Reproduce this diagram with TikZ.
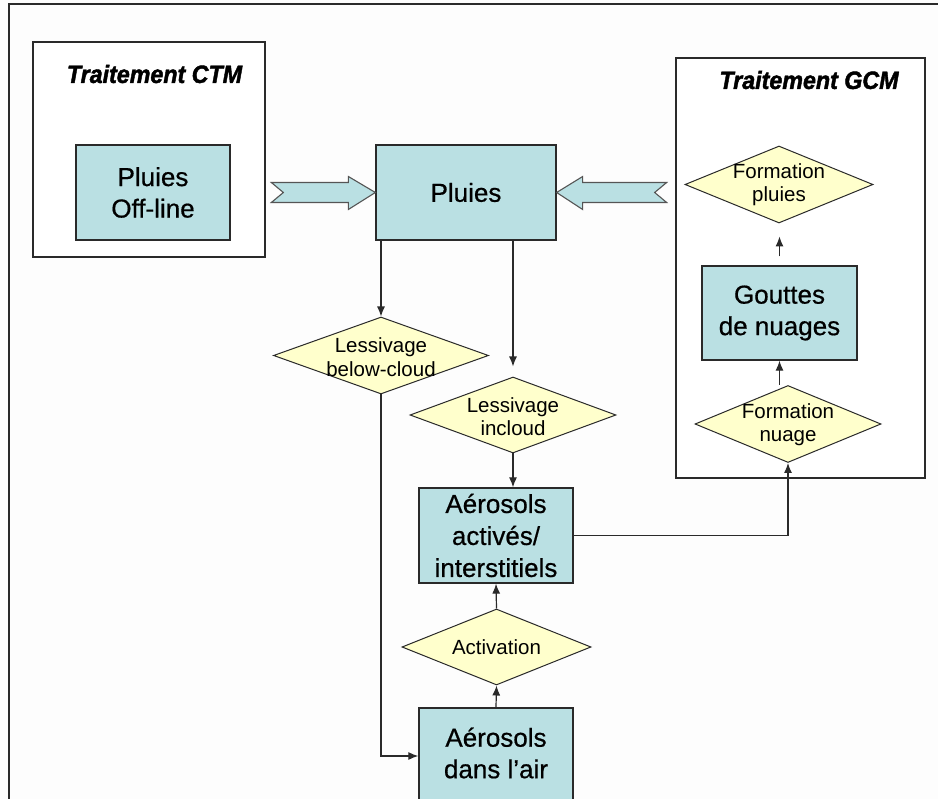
\documentclass[tikz,border=0pt]{standalone}
\usepackage{fontspec}
\setmainfont{Liberation Sans}
\usetikzlibrary{shapes.geometric,arrows.meta,calc}
\definecolor{bgc}{HTML}{FDFDFD}
\definecolor{teal}{HTML}{BAE0E3}
\definecolor{pale}{HTML}{FFFFCC}
\definecolor{ink}{HTML}{2A2A2A}
\newfontfamily\boxfam[FakeBold=0.6]{Liberation Sans}
\newfontfamily\ttlfam[FakeBold=1.8]{Liberation Sans}
\tikzset{
  boxfont/.style={font=\boxfam\fontsize{26}{31.5}\selectfont},
  dfont/.style={font=\fontsize{20.5}{23.5}\selectfont},
  tbox/.style={draw=ink, line width=1.3pt, fill=teal, rectangle, inner sep=0pt, align=center, boxfont},
  panel/.style={draw=ink, line width=1.2pt, fill=white, rectangle, inner sep=0pt},
  dnode/.style={draw=ink, line width=1pt, fill=pale, diamond, inner sep=0pt},
  dtext/.style={align=center, dfont, inner sep=0pt},
  ttl/.style={font=\ttlfam\fontsize{25}{27}\selectfont\bfseries\itshape, inner sep=0pt, xscale=0.93},
  conn/.style={draw=ink, line width=1.2pt, -{Latex[length=10pt,width=8pt]}},
  blk/.style={draw=ink!80, line width=1.1pt, fill=teal}
}
\begin{document}
\begin{tikzpicture}[x=1pt,y=-1pt]
\fill[bgc] (0,0) rectangle (938,799);
\useasboundingbox (0,0) rectangle (938,799);
% outer frame
\draw[ink, line width=2.4pt] (938,4) -- (9,4) -- (9,799);
% panels
\node[panel, minimum width=232, minimum height=215] (ctm) at (149,149.5) {};
\node[ttl] (ctmt) at (154.5,74) {Traitement CTM};
\node[panel, minimum width=249, minimum height=420] (gcm) at (800.5,268) {};
\node[ttl] (gcmt) at (809,80) {Traitement GCM};
% boxes
\node[tbox, minimum width=154, minimum height=95] (off) at (153,192.5) {Pluies\\Off-line};
\node[tbox, minimum width=180, minimum height=95] (pluies) at (466,192.5) {Pluies};
\node[tbox, minimum width=155, minimum height=94] (goutt) at (779.5,313) {Gouttes\\de nuages};
\node[tbox, minimum width=154, minimum height=95, font=\boxfam\fontsize{26}{32}\selectfont] (act) at (496,535.5) {Aérosols\\activés/\\interstitiels};
\node[tbox, minimum width=154, minimum height=96] (air) at (496,756) {};
\node[align=center, boxfont, inner sep=0pt] (airt) at (496,753) {Aérosols\\dans l’air};
% diamonds
\node[dnode, minimum width=188, minimum height=77] (fp) at (779,184.5) {};
\node[dtext] (fpt) at (fp.center) {Formation\\pluies};
\node[dnode, minimum width=186, minimum height=77] (fn) at (788,424) {};
\node[dtext] (fnt) at ($(fn.center)+(0,0.5)$) {Formation\\nuage};
\node[dnode, minimum width=215, minimum height=77] (bc) at (381,355.5) {};
\node[dtext] (bct) at ($(bc.center)+(0,1.5)$) {Lessivage\\below-cloud};
\node[dnode, minimum width=206, minimum height=76] (ic) at (513,415) {};
\node[dtext] (ict) at ($(ic.center)+(0,1.5)$) {Lessivage\\incloud};
\node[dnode, minimum width=189, minimum height=76] (activ) at (496.5,647) {};
\node[dtext] (activt) at (activ.center) {Activation};
% block arrows
\draw[blk] (pluies.west) -- ++(-27,-16) -- ++(0,6) -- ++(-77,0) -- ++(12,10) -- ++(-12,10) -- ++(77,0) -- ++(0,7) -- cycle;
\draw[blk] (pluies.east) -- ++(26,-16) -- ++(0,6) -- ++(84,0) -- ++(-12,10) -- ++(12,10) -- ++(-84,0) -- ++(0,7) -- cycle;
% connectors
\draw[conn] (pluies.south -| bc.north) -- (bc.north);
\draw[conn, shorten >=10pt] (pluies.south -| ic.north) -- (ic.north);
\draw[conn] (ic.south) -- (ic.south |- act.north);
\draw[conn] (activ.north) -- (act.south);
\draw[conn] (air.north) -- (activ.south);
\draw[conn] (bc.south) -- (bc.south |- air.west) -- (air.west);
\draw[conn] (act.east) -- (fn.south |- act.east) -- (fn.south);
\draw[conn] (goutt.south |- fn.north) -- (goutt.south);
\draw[conn, shorten <=9pt, shorten >=13pt] (goutt.north) -- (goutt.north |- fp.south);
\end{tikzpicture}
\end{document}
